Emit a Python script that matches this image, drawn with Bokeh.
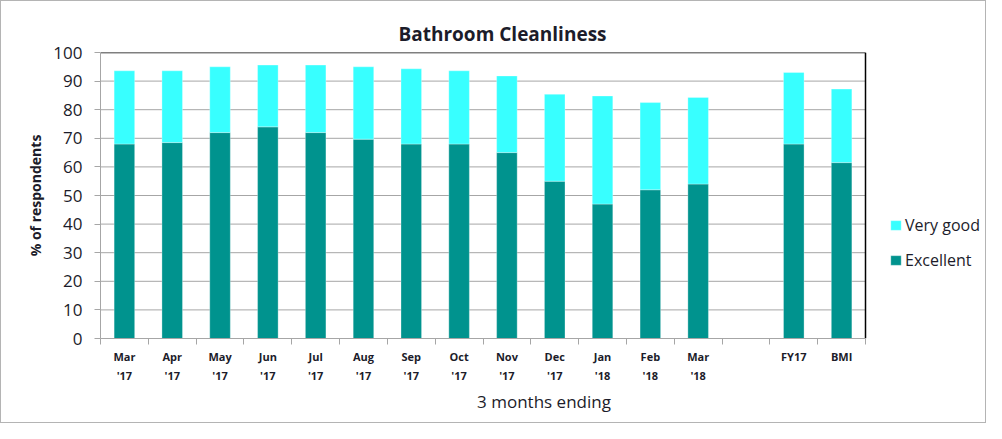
from bokeh.plotting import figure
from bokeh.models import (ColumnDataSource, Range1d, LinearAxis, FixedTicker,
                          Legend, LegendItem, Title)
from bokeh.embed import file_html
from bokeh.resources import INLINE

# ---- data ----
months = ["Mar", "Apr", "May", "Jun", "Jul", "Aug", "Sep", "Oct", "Nov",
          "Dec", "Jan", "Feb", "Mar", "", "FY17", "BMI"]
years = ["'17", "'17", "'17", "'17", "'17", "'17", "'17", "'17", "'17",
         "'17", "'18", "'18", "'18", "", "", ""]
excellent = [68, 68.5, 72, 74, 72, 69.7, 68, 68, 65, 55, 47, 52, 54, None, 68, 61.5]
very_good = [25.6, 25.1, 23, 21.6, 23.6, 25.3, 26.3, 25.6, 26.8, 30.4, 37.8, 30.5, 30.3, None, 25, 25.7]
y_ticks = [0, 10, 20, 30, 40, 50, 60, 70, 80, 90, 100]

TEAL = "#00938E"
CYAN = "#38FFFF"
GRID = "#a6a6a6"
TXT = "#1c1c2a"
FONT = "Open Sans"

W, H = 986, 423
LEFT, TOP, BOTTOM = 99, 51, 86
PLOT_W = 765          # width of the bar area in pixels
n = len(months)
# the frame extends to the right edge so that the legend can live inside it
x_end = n * (W - LEFT) / PLOT_W

idx = [i for i in range(n) if excellent[i] is not None]
src = ColumnDataSource(dict(
    x=[i + 0.5 for i in idx],
    excellent=[excellent[i] for i in idx],
    very_good=[very_good[i] for i in idx],
))
grid_src = ColumnDataSource(dict(
    x0=[0] * (len(y_ticks) - 2), x1=[n] * (len(y_ticks) - 2),
    y=y_ticks[1:-1],
))

p = figure(width=W, height=H, x_range=Range1d(0, x_end), y_range=Range1d(0, 100),
           output_backend="svg", toolbar_location=None, x_axis_location=None,
           min_border_left=LEFT, min_border_right=0, min_border_top=TOP,
           min_border_bottom=BOTTOM, title=None)
p.styles = {"border": "1px solid #b4b4b4"}

p.title = Title(text="Bathroom Cleanliness", align="left", text_font=FONT,
                text_font_size="19px", text_font_style="bold", text_color=TXT,
                offset=298, standoff=12)

# horizontal gridlines, limited to the bar area
p.segment(x0="x0", x1="x1", y0="y", y1="y", source=grid_src,
          line_color=GRID, line_width=1)

r = p.vbar_stack(["excellent", "very_good"], x="x", width=0.43,
                 color=[TEAL, CYAN], line_color="white", line_width=0.5,
                 line_alpha=0.6, source=src)

# black top and right border of the bar area
p.segment(x0=[0, n], x1=[n, n], y0=[y_ticks[-1], 0], y1=[y_ticks[-1], y_ticks[-1]],
          line_color="black", line_width=1.5)

p.xgrid.visible = False
p.ygrid.visible = False
p.outline_line_color = None

# y axis
ya = p.yaxis[0]
ya.ticker = FixedTicker(ticks=y_ticks)
ya.axis_label = "% of respondents"
ya.axis_label_text_font = FONT
ya.axis_label_text_font_style = "bold"
ya.axis_label_text_font_size = "14px"
ya.axis_label_text_color = TXT
ya.axis_label_standoff = 5
ya.major_label_text_font = FONT
ya.major_label_text_font_size = "17px"
ya.major_label_text_color = TXT
ya.major_tick_out = 6
ya.major_tick_in = 0
ya.minor_tick_line_color = None
ya.major_tick_line_color = GRID
ya.axis_line_color = GRID
ya.major_label_standoff = 12

# x axis: labels at category centres, minor ticks at category boundaries
labels = {i + 0.5: (months[i] + "\n" + years[i]) if years[i] else months[i]
          for i in range(n)}
xa = LinearAxis(ticker=FixedTicker(ticks=[i + 0.5 for i in range(n)],
                                   minor_ticks=list(range(n + 1))),
                bounds=(0, n),
                major_label_overrides=labels,
                major_label_text_font=FONT, major_label_text_font_size="11px",
                major_label_text_font_style="bold", major_label_text_color=TXT,
                major_label_text_line_height=1.33,
                major_tick_line_color=None, major_tick_out=6, major_tick_in=0,
                minor_tick_line_color=GRID, minor_tick_out=6, minor_tick_in=0,
                axis_line_color=GRID, major_label_standoff=4,
                axis_label="3 months ending", axis_label_text_font=FONT,
                axis_label_text_font_size="17px", axis_label_text_font_style="normal",
                axis_label_text_color=TXT, axis_label_standoff=4)
p.add_layout(xa, "below")

legend = Legend(items=[LegendItem(label="Very good", renderers=[r[1]]),
                       LegendItem(label="Excellent", renderers=[r[0]])],
                location=(789, 67), orientation="vertical",
                label_text_font=FONT, label_text_font_size="16px",
                label_text_color=TXT, glyph_width=13, glyph_height=12,
                label_height=20, spacing=13, label_standoff=3,
                padding=0, margin=0, border_line_color=None,
                background_fill_alpha=0)
p.add_layout(legend, "center")

open("out.html", "w").write(file_html(p, INLINE))
